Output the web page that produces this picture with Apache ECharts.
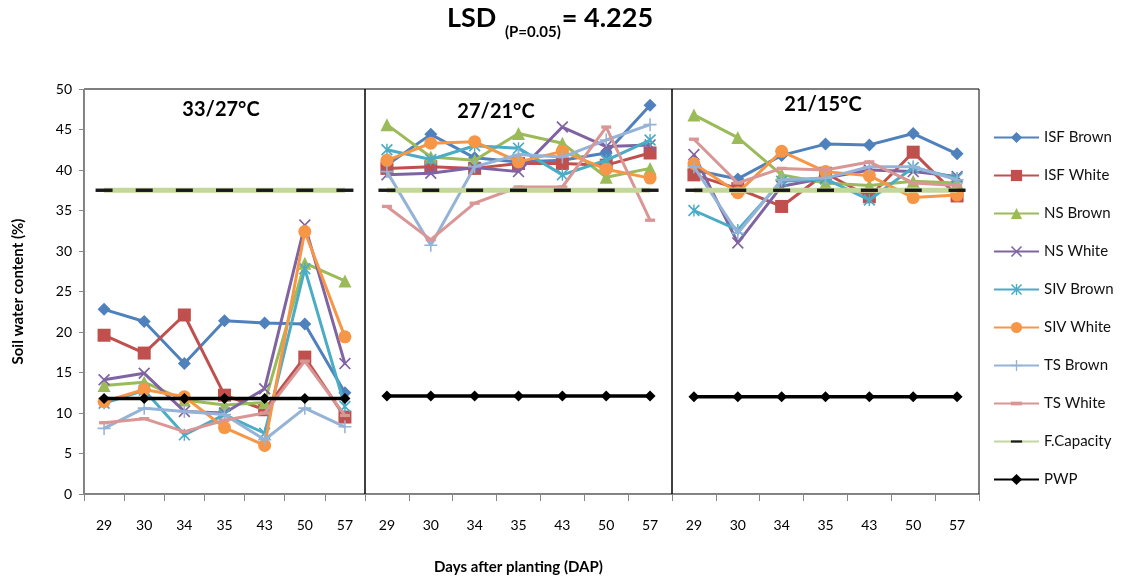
<!DOCTYPE html>
<html>
<head>
<meta charset="utf-8">
<script src="https://cdn.jsdelivr.net/npm/echarts@6/dist/echarts.min.js"></script>
<style>
  html, body { margin: 0; padding: 0; background: #fff; }
  #chart { width: 1129px; height: 578px; }
</style>
</head>
<body>
<div id="chart"></div>
<script>
// Sampling days (DAP), repeated in each temperature panel
const days = ['29', '30', '34', '35', '43', '50', '57'];
const panelTitles = ['33/27°C', '27/21°C', '21/15°C'];
const yTicks = [0, 5, 10, 15, 20, 25, 30, 35, 40, 45, 50];

// Soil water content (%) — 7 values per panel, panels in order 33/27, 27/21, 21/15 °C
const isfBrown = [22.8, 21.3, 16.1, 21.4, 21.1, 21.0, 12.5,
                  40.6, 44.4, 41.5, 41.0, 41.2, 42.1, 48.0,
                  40.0, 38.9, 41.8, 43.2, 43.1, 44.5, 42.0];
const isfWhite = [19.6, 17.4, 22.1, 12.2, 10.4, 16.9, 9.5,
                  40.2, 40.4, 40.2, 40.8, 40.8, 40.6, 42.1,
                  39.4, 37.7, 35.5, 39.6, 36.7, 42.2, 36.8];
const nsBrown  = [13.4, 13.8, 11.6, 11.0, 11.3, 28.5, 26.3,
                  45.6, 41.6, 41.2, 44.5, 43.3, 39.1, 40.2,
                  46.8, 44.0, 39.4, 38.4, 38.1, 38.6, 38.4];
const nsWhite  = [14.1, 14.9, 10.2, 10.0, 13.0, 33.2, 16.1,
                  39.4, 39.6, 40.3, 39.8, 45.3, 42.9, 43.1,
                  41.9, 31.0, 38.0, 39.0, 40.0, 39.8, 39.2];
const sivBrown = [11.2, 12.8, 7.3, 9.8, 7.5, 27.8, 10.8,
                  42.5, 41.3, 43.0, 42.7, 39.4, 41.2, 43.7,
                  35.0, 32.6, 38.6, 38.9, 36.3, 40.3, 39.0];
const sivWhite = [11.4, 12.9, 12.0, 8.2, 6.0, 32.4, 19.4,
                  41.2, 43.3, 43.5, 41.0, 42.3, 40.1, 39.0,
                  40.8, 37.2, 42.3, 39.8, 39.3, 36.6, 36.9];
const tsBrown  = [8.1, 10.6, 10.2, 9.8, 6.7, 10.6, 8.3,
                  39.8, 30.7, 40.4, 41.9, 41.6, 43.7, 45.6,
                  40.4, 32.2, 38.8, 39.0, 40.4, 40.4, 38.8];
const tsWhite  = [8.8, 9.3, 7.7, 9.1, 10.0, 16.4, 9.7,
                  35.5, 31.4, 35.9, 37.9, 37.9, 45.3, 33.8,
                  43.8, 38.4, 40.2, 40.0, 41.0, 38.4, 38.1];
const fCapacity = [37.5, 37.5, 37.5, 37.5, 37.5, 37.5, 37.5,
                   37.5, 37.5, 37.5, 37.5, 37.5, 37.5, 37.5,
                   37.5, 37.5, 37.5, 37.5, 37.5, 37.5, 37.5];
const pwp      = [11.8, 11.8, 11.8, 11.8, 11.8, 11.8, 11.8,
                  12.1, 12.1, 12.1, 12.1, 12.1, 12.1, 12.1,
                  12.0, 12.0, 12.0, 12.0, 12.0, 12.0, 12.0];

const seriesNames = ['ISF Brown', 'ISF White', 'NS Brown', 'NS White', 'SIV Brown',
                     'SIV White', 'TS Brown', 'TS White', 'F.Capacity', 'PWP'];
const seriesValues = [isfBrown, isfWhite, nsBrown, nsWhite, sivBrown,
                      sivWhite, tsBrown, tsWhite, fCapacity, pwp];

// Marker shapes drawn as filled outlines; the dash markers carry empty
// moves above and below so their box stays square and the bar stays thin
const crossPath = 'path://M0,1L1,0L5,4L9,0L10,1L6,5L10,9L9,10L5,6L1,10L0,9L4,5Z';
const starPath = 'path://M0,1L1,0L5,4L9,0L10,1L6,5L10,9L9,10L5,6L1,10L0,9L4,5Z M4.4,0H5.6V10H4.4Z';
const plusPath = 'path://M4.4,0H5.6V4.4H10V5.6H5.6V10H4.4V5.6H0V4.4H4.4Z';
const shortDash = 'path://M0,-1L0,-1M0,0H3V1H0ZM0,2L0,2';
const longDash = 'path://M0,-2L0,-2M0,0H5V1H0ZM0,3L0,3';

const looks = [
  { color: '#4F81BD', symbol: 'diamond', size: 13, width: 3 },
  { color: '#C0504D', symbol: 'rect', size: 13, width: 3 },
  { color: '#9BBB59', symbol: 'triangle', size: 13, width: 3 },
  { color: '#8064A2', symbol: crossPath, size: 12, width: 3 },
  { color: '#4BACC6', symbol: starPath, size: 12, width: 3 },
  { color: '#F79646', symbol: 'circle', size: 13, width: 3 },
  { color: '#95B3D7', symbol: plusPath, size: 13, width: 3 },
  { color: '#D99694', symbol: shortDash, size: 10, width: 3 },
  { color: '#C4D79B', symbol: longDash, size: 17, width: 5, markColor: '#1a1a1a' },
  { color: '#000000', symbol: 'diamond', size: 11, width: 3.5 }
];

const font = 'Lato';
const axisGrey = '#868686';

// Three panels sharing one value scale
const panels = [
  { left: 84, width: 281 },
  { left: 365, width: 307 },
  { left: 672, width: 307 }
];

const grids = panels.map(p => ({
  left: p.left, width: p.width, top: 89, bottom: 84,
  outerBoundsMode: 'none', containLabel: false,
  show: true, borderColor: '#000', borderWidth: 1, backgroundColor: 'transparent'
}));

const xAxes = panels.map((p, i) => ({
  type: 'category', gridIndex: i, data: days, boundaryGap: true,
  axisLine: { show: true, lineStyle: { color: axisGrey, width: 1 } },
  axisTick: { show: true, length: 7, lineStyle: { color: axisGrey } },
  axisLabel: { margin: 24, fontSize: 14, color: '#000', fontFamily: font },
  splitLine: { show: false },
  name: i === 1 ? 'Days after planting (DAP)' : '',
  nameLocation: 'middle', nameGap: 66,
  nameTextStyle: { fontSize: 15, fontWeight: 'bold', color: '#000', fontFamily: font }
}));

const yAxes = panels.map((p, i) => ({
  type: 'value', gridIndex: i, min: yTicks[0], max: yTicks[yTicks.length - 1],
  interval: yTicks[1] - yTicks[0],
  show: i === 0,
  axisLine: { show: true, lineStyle: { color: axisGrey, width: 1 } },
  axisTick: { show: true, length: 5, lineStyle: { color: axisGrey } },
  axisLabel: { margin: 12, fontSize: 14, color: '#000', fontFamily: font },
  splitLine: { show: false },
  name: i === 0 ? 'Soil water content (%)' : '',
  nameLocation: 'middle', nameGap: 58, nameRotate: 90,
  nameTextStyle: { fontSize: 15, fontWeight: 'bold', color: '#000', fontFamily: font }
}));

const series = [];
panels.forEach((p, pi) => {
  seriesNames.forEach((name, si) => {
    const lk = looks[si];
    series.push({
      type: 'line', name: name,
      xAxisIndex: pi, yAxisIndex: pi,
      data: seriesValues[si].slice(pi * days.length, (pi + 1) * days.length),
      symbol: lk.symbol, symbolSize: lk.size,
      showSymbol: true, showAllSymbol: true,
      lineStyle: { color: lk.color, width: lk.width },
      itemStyle: { color: lk.markColor || lk.color, borderWidth: 0 },
      z: 2 + si,
      silent: true, animation: false
    });
  });
});

const chart = echarts.init(document.getElementById('chart'), null, { renderer: 'canvas' });
chart.setOption({
  backgroundColor: '#fff',
  animation: false,
  title: {
    left: 447, top: 5, padding: 0,
    text: '{a|LSD }{b|(P=0.05)}{a|= 4.225}',
    textStyle: {
      rich: {
        a: { fontSize: 27, fontWeight: 'bold', fontFamily: font, color: '#000', lineHeight: 34, verticalAlign: 'top' },
        b: { fontSize: 15, fontFamily: font, color: '#000', lineHeight: 18, padding: [20, 1, 0, 2], verticalAlign: 'top' }
      }
    }
  },
  legend: {
    orient: 'vertical', left: 988, top: 125,
    itemWidth: 45, itemHeight: 14, itemGap: 23,
    data: seriesNames,
    textStyle: { fontSize: 15, color: '#111', fontFamily: font },
    selectedMode: false
  },
  grid: grids,
  xAxis: xAxes,
  yAxis: yAxes,
  series: series,
  graphic: [
    { type: 'text', x: 221, y: 110, z: 100,
      style: { text: panelTitles[0], align: 'center', verticalAlign: 'middle', fontSize: 20, fontWeight: 'bold', fontFamily: font, fill: '#000' } },
    { type: 'text', x: 496, y: 112, z: 100,
      style: { text: panelTitles[1], align: 'center', verticalAlign: 'middle', fontSize: 20, fontWeight: 'bold', fontFamily: font, fill: '#000' } },
    { type: 'text', x: 823, y: 105, z: 100,
      style: { text: panelTitles[2], align: 'center', verticalAlign: 'middle', fontSize: 20, fontWeight: 'bold', fontFamily: font, fill: '#000' } }
  ]
});
</script>
</body>
</html>
